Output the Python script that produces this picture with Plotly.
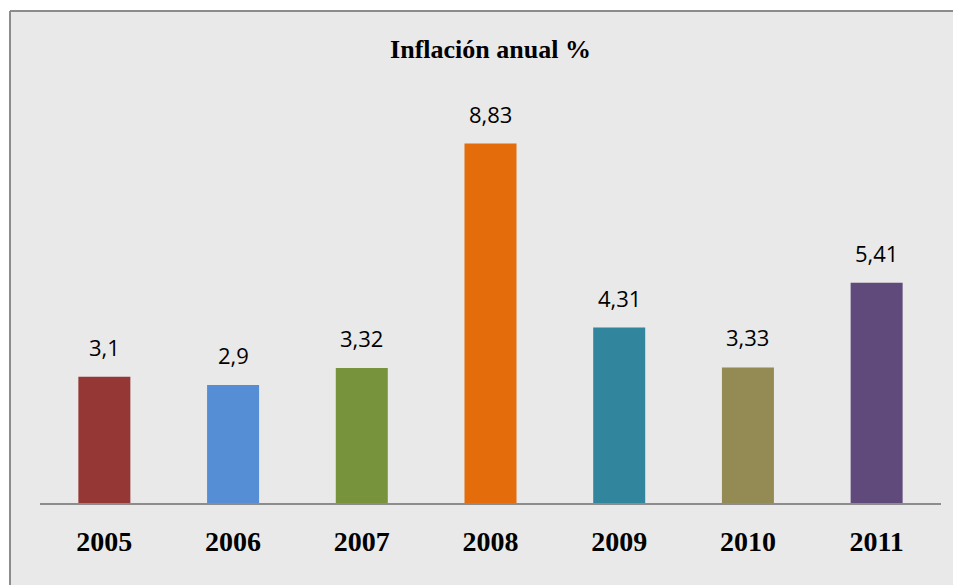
import plotly.graph_objects as go

years = ["2005", "2006", "2007", "2008", "2009", "2010", "2011"]
inflation = [3.1, 2.9, 3.32, 8.83, 4.31, 3.33, 5.41]
colors = ["#953735", "#558ED5", "#77933C", "#E46C0A", "#31859C", "#948A54", "#604A7B"]
title_text = "Inflación anual %"

# page body has an 8px margin; work in window pixels and shift
OFF = 8
W, H = 961, 585
win_left, win_right, win_top, win_base = 40, 941, 96, 503
ML = win_left - OFF
MR = W - (win_right - OFF)
MT = win_top - OFF
MB = H - (win_base - OFF)
plot_h = H - MT - MB
plot_w = W - ML - MR

def px_to_paper_x(wx):
    return (wx - OFF - ML) / plot_w

def px_to_paper_y(wy):
    return (H - MB - (wy - OFF)) / plot_h

bg = "#e9e9e9"

fig = go.Figure()
fig.add_trace(go.Bar(
    x=years, y=inflation,
    marker=dict(color=colors, line=dict(width=0)),
    width=0.404,
    hoverinfo="x+y",
))

annotations = []
for i, v in enumerate(inflation):
    annotations.append(dict(
        x=i, y=v, xref="x", yref="y",
        text=str(v).replace(".", ","),
        showarrow=False, yanchor="bottom", yshift=13,
        font=dict(family="Open Sans", size=22, color="#000000"),
    ))

shapes = [
    dict(type="rect", xref="paper", yref="paper",
         x0=px_to_paper_x(-20), x1=px_to_paper_x(10), y0=px_to_paper_y(H + 20), y1=px_to_paper_y(-20),
         fillcolor="white", line=dict(width=0), layer="below"),
    dict(type="rect", xref="paper", yref="paper",
         x0=px_to_paper_x(-20), x1=px_to_paper_x(W + 20), y0=px_to_paper_y(11), y1=px_to_paper_y(-20),
         fillcolor="white", line=dict(width=0), layer="below"),
    dict(type="line", xref="paper", yref="paper",
         x0=px_to_paper_x(10), x1=px_to_paper_x(10), y0=px_to_paper_y(H + 20), y1=px_to_paper_y(11),
         line=dict(color="#8c8c8c", width=2)),
    dict(type="line", xref="paper", yref="paper",
         x0=px_to_paper_x(10), x1=px_to_paper_x(W + 20), y0=px_to_paper_y(11), y1=px_to_paper_y(11),
         line=dict(color="#8c8c8c", width=2)),
]

fig.update_layout(
    width=W, height=H,
    margin=dict(l=ML, r=MR, t=MT, b=MB, pad=0, autoexpand=False),
    paper_bgcolor=bg, plot_bgcolor=bg,
    showlegend=False,
    title=dict(text=title_text, x=(490.5 - OFF) / W, xanchor="center", y=1 - (49 - OFF) / H,
               yanchor="middle",
               font=dict(family="Liberation Serif", size=26, color="#000000", weight="bold")),
    xaxis=dict(type="category", range=[-0.5, len(years) - 0.5], showline=True, linecolor="#8c8c8c",
               linewidth=1.5, showgrid=False, zeroline=False, automargin=False, ticks="",
               ticklabelstandoff=13,
               tickfont=dict(family="Liberation Serif", size=28, color="#000000", weight="bold")),
    yaxis=dict(range=[0, 10], visible=False, showgrid=False, zeroline=False, automargin=False),
    annotations=annotations,
    shapes=shapes,
    bargap=0.596,
)

fig.write_html("out.html")
